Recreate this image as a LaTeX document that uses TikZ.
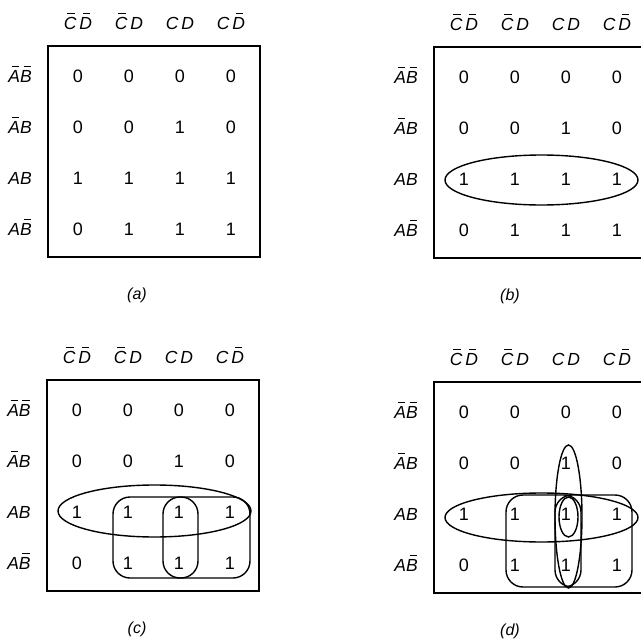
\documentclass[tikz,border=0pt]{standalone}
\usepackage{fontspec}
\setmainfont{Liberation Sans}
\newcommand\ob[1]{\mbox{\itshape\rlap{\kern0.2em\rule[0.86em]{0.42em}{0.07em}}#1}}
\tikzset{
  val/.style={font=\fontsize{18}{20}\selectfont, inner sep=0pt, anchor=base},
  lab/.style={font=\fontsize{17.5}{20}\selectfont\itshape, inner sep=0pt, anchor=base},
  captext/.style={font=\fontsize{16}{18}\selectfont\itshape, inner sep=0pt},
  frame/.style={line width=1.8pt},
  loop/.style={line width=1.4pt},
}
\newcommand\kpanel[5]{%
  \begin{scope}[shift={(#2,#3)}]
    \draw[frame] (0,0) rectangle (212,211);
    \foreach \lbl [count=\c] in {\ob{C}\,\ob{D},\ob{C}\,\textit{D},\textit{C\,D},\textit{C}\,\ob{D}}
      \node[lab] (#1-col\c) at ({30+51*(\c-1)},-16.5) {\lbl};
    \foreach \lbl [count=\r] in {\ob{A}\ob{B},\ob{A}\textit{B},\textit{AB},\textit{A}\ob{B}}
      \node[lab] (#1-row\r) at (-28,{36.3+51*(\r-1)}) {\lbl};
    \foreach \vals [count=\r] in {{0,0,0,0},{0,0,1,0},{1,1,1,1},{0,1,1,1}}
      \foreach \v [count=\c] in \vals
        \node[val] (#1-\r-\c) at ({30+51*(\c-1)},{36.5+51*(\r-1)}) {\v};
    \node[captext] (#1-cap) at (#5,249) {(#4)};
  \end{scope}}
\begin{document}
\begin{tikzpicture}[x=1pt,y=-1pt]
  \useasboundingbox (0,0) rectangle (641,640);
  % (a)
  \kpanel{a}{48}{46}{a}{89}
  % (b)
  \kpanel{b}{434}{47}{b}{76}
  \begin{scope}[shift={(434,47)}]
    \draw[loop] (107.5,133) ellipse [x radius=96.5pt, y radius=25pt];
  \end{scope}
  % (c)
  \kpanel{c}{47}{380}{c}{90}
  \begin{scope}[shift={(47,380)}]
    \draw[loop] (107.5,131) ellipse [x radius=96.5pt, y radius=26pt];
    \draw[loop, rounded corners=17pt] (66,117) rectangle (151,198);
    \draw[loop, rounded corners=17pt] (116,117) rectangle (203,198);
  \end{scope}
  % (d)
  \kpanel{d}{434}{382}{d}{76}
  \begin{scope}[shift={(434,382)}]
    \draw[loop] (107.5,135.5) ellipse [x radius=96.5pt, y radius=24.5pt];
    \draw[loop, rounded corners=17pt] (72,113) rectangle (147,205);
    \draw[loop, rounded corners=17pt] (121,113) rectangle (198,205);
    \draw[loop] (134.5,134.5) ellipse [x radius=13.5pt, y radius=71.5pt];
    \draw[loop] (134.5,135) ellipse [x radius=9.5pt, y radius=20pt];
  \end{scope}
\end{tikzpicture}
\end{document}
